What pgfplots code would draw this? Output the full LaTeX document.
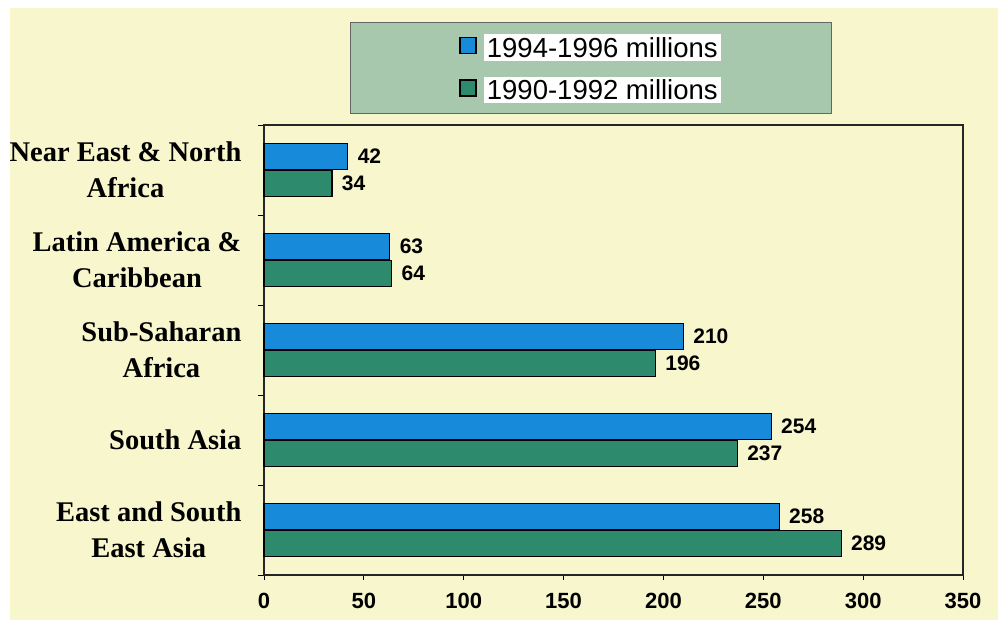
\documentclass[border=0pt]{standalone}
\usepackage{fontspec}
\setmainfont{Liberation Serif}
\newfontfamily\arial{Liberation Sans}
\usepackage{pgfplots}
\pgfplotsset{compat=1.18}
\definecolor{bgyellow}{RGB}{248,246,204}
\definecolor{barblue}{RGB}{24,138,218}
\definecolor{bargreen}{RGB}{46,138,108}
\definecolor{legfill}{RGB}{168,200,174}
\begin{document}
\begin{tikzpicture}
\fill[white] (-264pt,-49pt) rectangle (734pt,575pt);
\fill[bgyellow] (-254pt,-45pt) rectangle (734pt,567pt);
\begin{axis}[
  scale only axis, width=699pt, height=450pt,
  xbar, clip=false,
  xmin=0, xmax=350, ymin=-0.5, ymax=4.5,
  bar width=26pt,
  axis line style={line width=1.4pt, black!85},
  tick align=outside, tick pos=left,
  xtick={0,50,...,350},
  x tick label style={font=\arial\bfseries\fontsize{22}{22}\selectfont, yshift=-10pt},
  /pgf/number format/assume math mode=true,
  xtick style={black, line width=0.8pt},
  ytick={0,1,2,3,4},
  yticklabels={{East and South\\East Asia},{South Asia},{Sub-Saharan\\Africa},{Latin America \&\\Caribbean},{Near East \& North\\Africa}},
  y tick label style={font=\bfseries\fontsize{28.5}{36}\selectfont, align=center, xshift=-14pt},
  major y tick style={draw=none},
  minor ytick={-0.5,0.5,1.5,2.5,3.5,4.5},
  minor y tick style={black, line width=0.8pt},
  minor tick length=6pt,
  major tick length=5pt,
  nodes near coords,
  every node near coord/.append style={font=\arial\bfseries\fontsize{21}{21}\selectfont, anchor=west, xshift=6pt},
  legend style={at={(86pt,553pt)}, anchor=north west, fill=legfill, draw=black!60, line width=0.8pt,
    inner xsep=109pt, inner ysep=10pt, font=\arial\fontsize{27.5}{27.5}\selectfont,
    row sep=14pt, cells={anchor=west},
    /tikz/every odd column/.append style={column sep=5pt}},
  legend cell align=left,
]
\addplot[fill=barblue, draw=black, line width=1.2pt, bar shift=13.5pt,
  legend image code/.code={\draw[fill=barblue,draw=black,line width=1.5pt] (0pt,-7pt) rectangle (16pt,9pt);}]
  coordinates {(258,0) (254,1) (210,2) (63,3) (42,4)};
\addlegendentry{\colorbox{white}{1994-1996 millions}}
\addplot[fill=bargreen, draw=black, line width=1.2pt, bar shift=-13.5pt,
  legend image code/.code={\draw[fill=bargreen,draw=black,line width=1.5pt] (0pt,-7pt) rectangle (16pt,9pt);}]
  coordinates {(289,0) (237,1) (196,2) (64,3) (34,4)};
\addlegendentry{\colorbox{white}{1990-1992 millions}}
\end{axis}
\end{tikzpicture}
\end{document}
